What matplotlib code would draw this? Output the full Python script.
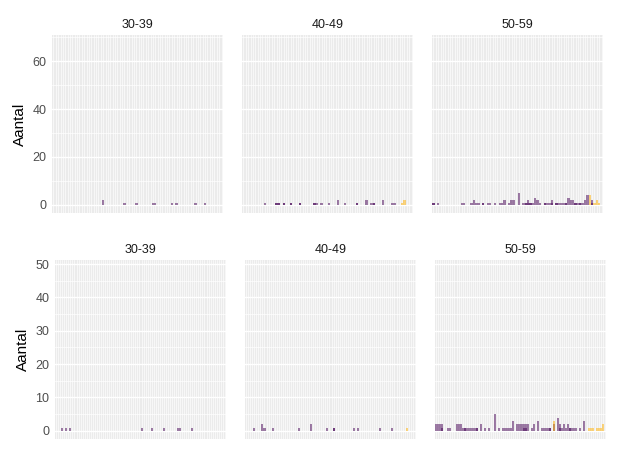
import numpy as np
import matplotlib
matplotlib.use("Agg")
import matplotlib.pyplot as plt

plt.rcParams['font.family'] = ['Liberation Sans', 'DejaVu Sans']

# leeftijdsgroepen (facetten)
groepen = ["30-39", "40-49", "50-59"]

# bovenste rij: 72 categorieen op de x-as
n_boven = 72
boven_paars = [
    {21: 2, 30: 1, 35: 1, 42: 1, 43: 1, 50: 1, 52: 1, 60: 1, 64: 1},
    {9: 1, 14: 1, 15: 1, 17: 1, 20: 1, 24: 1, 30: 1, 31: 1, 33: 1, 36: 1, 40: 2, 43: 1,
     48: 1, 52: 2, 54: 1, 55: 1, 59: 2, 63: 1, 64: 1},
    {0: 1, 2: 1, 12: 1, 13: 1, 16: 1, 17: 2, 18: 1, 19: 1, 21: 1, 23: 1, 24: 1, 26: 1,
     28: 1, 29: 1, 30: 2, 32: 1, 33: 2, 34: 2, 36: 5, 38: 1, 39: 1, 40: 2, 41: 1, 42: 1,
     43: 3, 44: 2, 45: 1, 47: 1, 48: 1, 49: 1, 50: 2, 52: 1, 53: 1, 54: 1, 55: 1, 56: 1,
     57: 3, 58: 2, 59: 2, 60: 1, 61: 1, 62: 1, 63: 1, 64: 2, 65: 4, 67: 2},
]
boven_paars2 = [
    {},
    {14: 1, 15: 1, 17: 1, 20: 1, 24: 1, 30: 1, 48: 1, 55: 1},
    {0: 1, 21: 1, 39: 1, 40: 1, 41: 1, 47: 1, 50: 1, 52: 1, 56: 1, 60: 1, 62: 1, 67: 1},
]
boven_geel = [
    {},
    {67: 1, 68: 2},
    {66: 4, 68: 1, 69: 2, 70: 1},
]

# onderste rij: 84 categorieen op de x-as
n_onder = 84
onder_paars = [
    {3: 1, 5: 1, 7: 1, 42: 1, 47: 1, 53: 1, 60: 1, 61: 1, 67: 1},
    {4: 1, 8: 2, 9: 1, 13: 1, 26: 1, 32: 2, 40: 1, 43: 1, 53: 1, 55: 1, 66: 1, 72: 1},
    {0: 2, 1: 2, 2: 2, 3: 2, 6: 1, 7: 1, 10: 2, 11: 2, 12: 2, 13: 1, 14: 1, 15: 1, 16: 1,
     17: 1, 18: 1, 19: 1, 20: 1, 22: 2, 24: 1, 26: 1, 29: 5, 31: 1, 33: 1, 34: 1, 35: 1,
     36: 1, 37: 1, 38: 3, 40: 2, 41: 2, 42: 2, 43: 2, 44: 2, 45: 2, 47: 1, 48: 2, 50: 3,
     52: 1, 53: 1, 54: 1, 55: 1, 56: 1, 58: 2, 60: 4, 61: 2, 62: 1, 63: 2, 64: 1, 65: 2,
     66: 1, 67: 1, 68: 1, 69: 1, 71: 1, 73: 3},
]
onder_paars2 = [
    {},
    {43: 1},
    {3: 1, 14: 1, 20: 1, 43: 1, 44: 1, 56: 1, 61: 1, 66: 1},
]
onder_geel = [
    {},
    {79: 1},
    {58: 3, 75: 1, 76: 1, 77: 1, 79: 1, 80: 1, 81: 1, 82: 2},
]

W, H = 624, 449
fig = plt.figure(figsize=(W / 100, H / 100), dpi=100)


def tel(d, n):
    y = np.zeros(n)
    for k, v in d.items():
        y[k] = v
    return y


def paneel(rect, n, paars, paars2, geel, titel, ymax, majors, minors, ylabel):
    l, t, w, h = rect
    ax = fig.add_axes([l / W, 1 - (t + h) / H, w / W, h / H])
    ax.set_facecolor('#ebebeb')
    x = np.arange(n)
    for xi in x:
        ax.axvline(xi, color='white', lw=0.45, zorder=0)
    for m in minors:
        ax.axhline(m, color='white', lw=0.5, zorder=0)
    for m in majors:
        ax.axhline(m, color='white', lw=1.0, zorder=0)
    ax.bar(x, tel(paars, n), width=1.0, color='#440154', alpha=0.5, lw=0, zorder=2)
    ax.bar(x, tel(paars2, n), width=1.0, color='#440154', alpha=0.5, lw=0, zorder=2)
    ax.bar(x, tel(geel, n), width=1.0, color='#ffb000', alpha=0.5, lw=0, zorder=2)
    ax.set_xlim(-0.6, n - 0.4)
    ax.set_ylim(-ymax * 0.05 / 1.05, ymax)
    ax.set_xticks([])
    if ylabel:
        ax.set_yticks(majors)
        ax.tick_params(axis='y', length=0, labelsize=9, labelcolor='#4d4d4d', pad=4)
        ax.set_ylabel('Aantal', fontsize=11, color='black', labelpad=4)
    else:
        ax.set_yticks([])
    for s in ax.spines.values():
        s.set_visible(False)
    ax.set_title(titel, fontsize=9, color='#1a1a1a', pad=5)
    return ax


for i, g in enumerate(groepen):
    paneel((52 + 190 * i, 35, 171, 178), n_boven, boven_paars[i], boven_paars2[i],
           boven_geel[i], g, 70.9, [0, 20, 40, 60], [10, 30, 50, 70], i == 0)
    paneel((55 + 190 * i, 260, 171, 179), n_onder, onder_paars[i], onder_paars2[i],
           onder_geel[i], g, 51.2, [0, 10, 20, 30, 40, 50], [5, 15, 25, 35, 45], i == 0)

fig.savefig('out.png', dpi=100)
